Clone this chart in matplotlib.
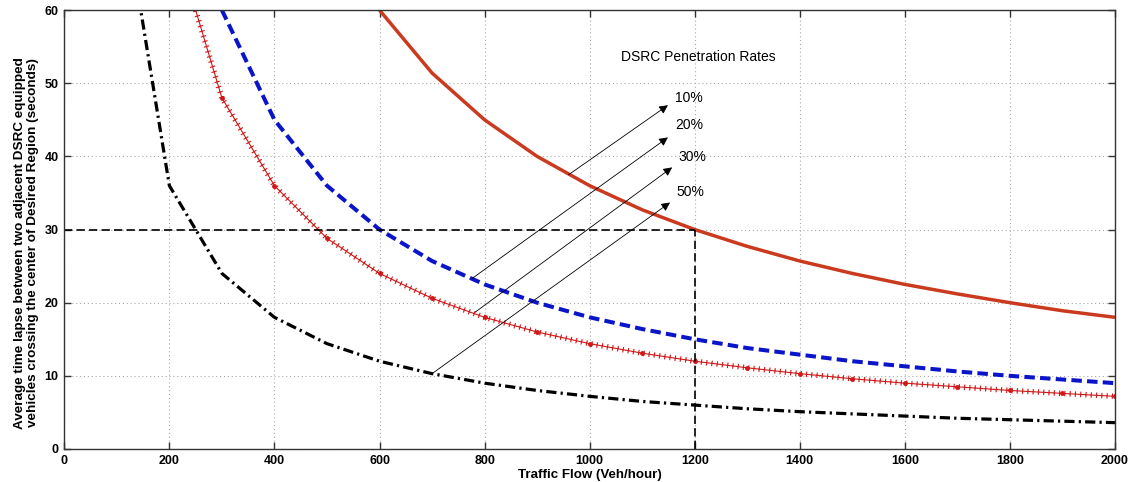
import matplotlib
matplotlib.use("Agg")
import matplotlib.pyplot as plt
import matplotlib.patheffects as pe

plt.rcParams['font.family'] = ['Liberation Sans', 'DejaVu Sans']

# traffic flow (veh/hour) and time lapse (s) for each penetration rate
flow_10 = [600, 700, 800, 900, 1000, 1100, 1200, 1300, 1400, 1500, 1600, 1700, 1800, 1900, 2000]
gap_10 = [60, 51.4, 45, 40, 36, 32.7, 30, 27.7, 25.7, 24, 22.5, 21.2, 20, 18.9, 18]

flow_20 = [300, 400, 500, 600, 700, 800, 900, 1000, 1100, 1200, 1300, 1400, 1500, 1600, 1700, 1800, 1900, 2000]
gap_20 = [60, 45, 36, 30, 25.7, 22.5, 20, 18, 16.4, 15, 13.8, 12.9, 12, 11.3, 10.6, 10, 9.5, 9]

flow_30 = [200, 300, 400, 500, 600, 700, 800, 900, 1000, 1100, 1200, 1300, 1400, 1500, 1600, 1700, 1800, 1900, 2000]
gap_30 = [72, 48, 36, 28.8, 24, 20.6, 18, 16, 14.4, 13.1, 12, 11.1, 10.3, 9.6, 9, 8.5, 8, 7.6, 7.2]

flow_50 = [100, 200, 300, 400, 500, 600, 700, 800, 900, 1000, 1100, 1200, 1300, 1400, 1500, 1600, 1700, 1800, 1900, 2000]
gap_50 = [80, 36, 24, 18, 14.4, 12, 10.3, 9, 8, 7.2, 6.5, 6, 5.5, 5.1, 4.8, 4.5, 4.2, 4, 3.8, 3.6]

rate_labels = ['10%', '20%', '30%', '50%']
# arrow start (on curve) and tip, in data units
arrow_from = [(960, 37.5), (776, 23.3), (782, 18.7), (700, 10.3)]
arrow_to = [(1149, 47.0), (1149, 42.6), (1157, 38.5), (1153, 33.7)]
label_at = [(1163, 48.0), (1163, 44.3), (1168, 39.9), (1166, 35.1)]

target_gap = 30
target_flow = 1200

fig = plt.figure(figsize=(11.38, 4.82), dpi=100)
ax = fig.add_axes([0.0565, 0.0685, 0.9233, 0.9105])

ax.plot(flow_10, gap_10, color='#C93A1E', lw=2.5, solid_capstyle='butt')
ax.plot(flow_20, gap_20, color='#0A14C8', lw=2.9, dashes=(2.6, 1.3))
ax.plot(flow_30, gap_30, color='#D01818', lw=0.8,
        path_effects=[pe.Normal(),
                      pe.TickedStroke(spacing=3.8, angle=90, length=0.42),
                      pe.TickedStroke(spacing=3.8, angle=-90, length=0.42)])
ax.plot(flow_30, gap_30, ls='none', marker='o', ms=2.5, color='#D01818')
ax.plot(flow_50, gap_50, color='black', lw=2.3, dashes=(3.2, 1.3, 0.7, 1.3))

# 30 s threshold reached at 1200 veh/hour
ax.plot([0, target_flow], [target_gap, target_gap], color='black', lw=1.2, dashes=(5, 2.5))
ax.plot([target_flow, target_flow], [0, target_gap], color='black', lw=1.2, dashes=(5, 2.5))

for lab, a, b, t in zip(rate_labels, arrow_from, arrow_to, label_at):
    ax.annotate('', xy=b, xytext=a,
                arrowprops=dict(arrowstyle='-|>', lw=0.6, color='black',
                                mutation_scale=13, shrinkA=0, shrinkB=0))
    ax.text(t[0], t[1], lab, fontsize=10, ha='left', va='center')

ax.text(1206, 53.6, 'DSRC Penetration Rates', fontsize=10, ha='center', va='center')

ax.set_xlim(0, 2000)
ax.set_ylim(0, 60)
ax.set_xticks(range(0, 2001, 200))
ax.set_yticks(range(0, 61, 10))
ax.grid(True, color='#aaaaaa', lw=0.8, ls=(0, (1, 2.5)))
ax.tick_params(direction='in', length=5, width=1, top=True, right=True,
               labelsize=9, pad=4, color='#333333')
for lbl in ax.get_xticklabels() + ax.get_yticklabels():
    lbl.set_fontweight('bold')
for s in ax.spines.values():
    s.set_color('#333333')
    s.set_linewidth(1)

ax.set_xlabel('Traffic Flow (Veh/hour)', fontsize=9.6, fontweight='bold', labelpad=2)
ax.set_ylabel('Average time lapse between two adjacent DSRC equipped\n'
              'vehicles crossing the center of Desired Region (seconds)',
              fontsize=9.7, fontweight='bold', linespacing=1.15)
ax.yaxis.set_label_coords(-0.024, 0.47)

fig.savefig('out.png', dpi=100)
